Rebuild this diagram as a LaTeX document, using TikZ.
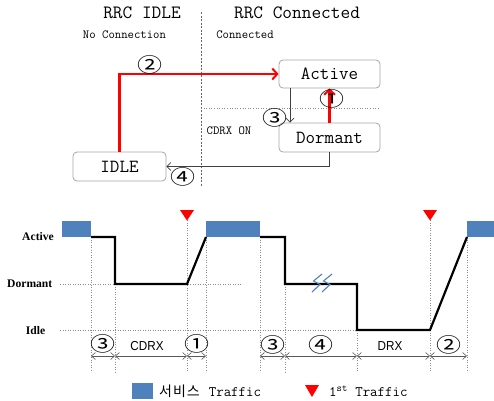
\documentclass[tikz,border=0pt]{standalone}
\usepackage{fontspec}
\newfontfamily\cjk{Noto Sans CJK KR}
\newfontfamily\sansf{Liberation Sans}
\newfontfamily\serifb{Liberation Serif}
\usetikzlibrary{arrows.meta,calc}
\definecolor{tblue}{HTML}{4F81BD}
\definecolor{boxgray}{HTML}{A6A6A6}
\definecolor{dotgray}{HTML}{8C8C8C}
\tikzset{
  statebox/.style={draw=boxgray, line width=0.8pt, rounded corners=4pt, fill=white,
    font=\ttfamily\fontsize{18.5}{18.5}\selectfont, inner sep=0pt},
  thinarrow/.style={draw=black!75, line width=0.7pt, -{Straight Barb[length=4pt,width=8pt]}},
  redarrow/.style={draw=red, line width=2.4pt, -{Straight Barb[length=5pt,width=11pt,line width=2pt]}},
  circnum/.style={font=\cjk\fontsize{20}{20}\selectfont, inner sep=0pt, xscale=1.25},
  vdot/.style={draw=dotgray, line width=0.5pt, dotted},
  tracel/.style={draw=black, line width=2.2pt, line join=miter},
  dimarrow/.style={draw=black!65, line width=0.6pt, {Straight Barb[length=4pt,width=7pt]}-{Straight Barb[length=4pt,width=7pt]}},
  dimtext/.style={font=\sansf\fontsize{13}{13}\selectfont, inner sep=0pt, xscale=0.9},
  ylab/.style={font=\serifb\bfseries\fontsize{11.6}{11.6}\selectfont, inner sep=0pt},
  titletext/.style={font=\ttfamily\fontsize{18.8}{18.8}\selectfont, inner sep=0pt},
  smalltext/.style={font=\ttfamily\fontsize{12.4}{12.4}\selectfont, inner sep=0pt},
  tblock/.style={fill=tblue, draw=none},
  redtri/.style={fill=red, draw=none},
}
\begin{document}
\begin{tikzpicture}[x=1pt,y=-1pt]
\useasboundingbox (0,0) rectangle (494,400);
% ---------- top state diagram ----------
\node[titletext] (t1) at (142,13) {RRC IDLE};
\node[titletext] (t2) at (297,13) {RRC Connected};
\node[smalltext] (s1) at (124.5,35) {No Connection};
\node[smalltext] (s2) at (245,35) {Connected};
\draw[draw=black!60, line width=0.5pt, dashed, dash pattern=on 2pt off 1.5pt] (201,12) -- (201,187);
\draw[draw=dotgray, line width=0.6pt, dotted] (201,108) -- (380,108);
\node[smalltext] (cdrxon) at (229,131) {CDRX ON};

\node[statebox, minimum width=101pt, minimum height=28pt] (active) at (329.5,74) {Active};
\node[statebox, minimum width=101pt, minimum height=29pt] (dormant) at (329.5,137.5) {Dormant};
\node[statebox, minimum width=93pt, minimum height=29pt] (idle) at (119.5,166.5) {IDLE};

\draw[redarrow] (idle.north) |- (active.west);
\draw[thinarrow] ([xshift=-39.5pt]active.south) -- ([xshift=-39.5pt]dormant.north);
\draw[redarrow] (dormant.north) -- (active.south);
\draw[thinarrow] (dormant.south) |- (idle.east);

\node[circnum] (n2a) at (150,65) {②};
\node[circnum] (n3a) at (275,118) {③};
\node[circnum] (n1a) at (332,99) {①};
\node[circnum] (n4a) at (183,177) {④};

% ---------- bottom timing chart ----------
\node[ylab, anchor=east] (yact) at (54,237) {Active};
\node[ylab, anchor=east] (ydor) at (52.5,284) {Dormant};
\node[ylab] (yidl) at (35.5,330.5) {Idle};

\draw[vdot] (60,284) -- (242,284);
\draw[vdot] (60,330) -- (357,330);
\foreach \xx/\yy in {91/237,115/284,187/220,206/237,260/237,285/284,357/330,430/220,467/237}
  \draw[vdot] (\xx,\yy) -- (\xx,372);

\fill[tblock] (62,221) rectangle (91,237);
\fill[tblock] (206,221) rectangle (260,237);
\fill[tblock] (467,221) rectangle (494,237);

\draw[tracel] (91,237) -- (115,237) -- (115,284) -- (187,284) -- (206,237);
\draw[tracel] (260,237) -- (285,237) -- (285,284) -- (357,284) -- (357,330) -- (430,330) -- (467,237);

\fill[redtri] (180,210) -- (194,210) -- (187,220.5) -- cycle;
\fill[redtri] (423,210) -- (437,210) -- (430,220.5) -- cycle;

% break mark
\foreach \d in {0,10}
  \draw[draw=tblue, line width=1.1pt] (322+\d,274) -- (313.5+\d,281) -- (320+\d,284.5) -- (312+\d,292);

% dimension arrows
\foreach \a/\b in {91/115,115/187,187/206,260/285,285/357,357/430,430/467}
  \draw[dimarrow] (\a,356) -- (\b,356);

\node[circnum] (d3a) at (103,344) {③};
\node[dimtext] (dcdrx) at (147,346) {CDRX};
\node[circnum] (d1) at (196.5,344) {①};
\node[circnum] (d3b) at (272.5,345) {③};
\node[circnum] (d4) at (321,345) {④};
\node[dimtext] (ddrx) at (390,346.5) {DRX};
\node[circnum] (d2) at (448.5,345) {②};

% legend
\fill[tblock] (132,383) rectangle (153,399);
\node[anchor=west, inner sep=0pt] (leg1) at (159,391) {{\cjk\fontsize{14}{14}\selectfont 서\hspace{1pt}비\hspace{1pt}스}\hspace{9pt}{\ttfamily\fontsize{14.5}{14.5}\selectfont Traffic}};
\fill[redtri] (305,385) -- (319,385) -- (312,397) -- cycle;
\node[anchor=west, inner sep=0pt, font=\ttfamily\fontsize{14.5}{14.5}\selectfont] (leg2) at (329,391) {1\textsuperscript{st} Traffic};
\end{tikzpicture}
\end{document}
